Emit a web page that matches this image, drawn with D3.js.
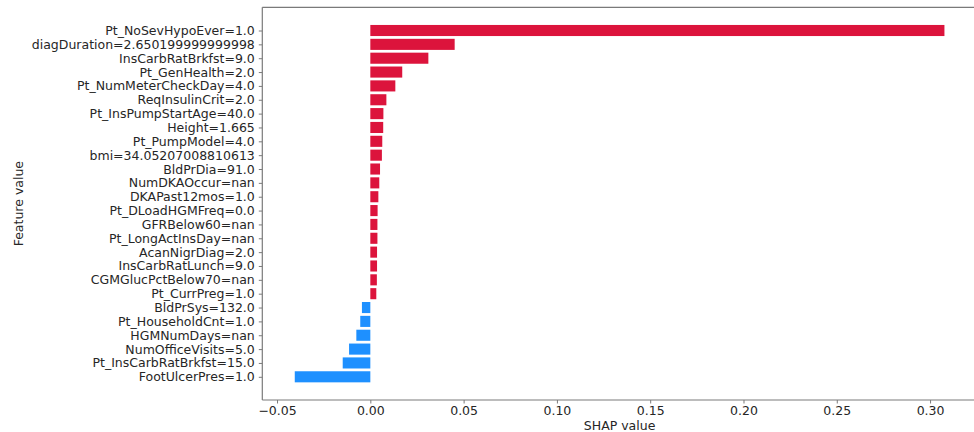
<!DOCTYPE html>
<html>
<head>
<meta charset="utf-8">
<script src="https://cdn.jsdelivr.net/npm/d3@7"></script>
<style>
  html, body { margin: 0; padding: 0; background: #fff; }
  svg { display: block; }
  text { font-family: "DejaVu Sans", sans-serif; fill: #262626; }
</style>
</head>
<body>
<svg id="chart" width="974" height="432"></svg>
<script>
// Feature labels (top to bottom) and their SHAP contributions
const features = [
  "Pt_NoSevHypoEver=1.0",
  "diagDuration=2.650199999999998",
  "InsCarbRatBrkfst=9.0",
  "Pt_GenHealth=2.0",
  "Pt_NumMeterCheckDay=4.0",
  "ReqInsulinCrit=2.0",
  "Pt_InsPumpStartAge=40.0",
  "Height=1.665",
  "Pt_PumpModel=4.0",
  "bmi=34.05207008810613",
  "BldPrDia=91.0",
  "NumDKAOccur=nan",
  "DKAPast12mos=1.0",
  "Pt_DLoadHGMFreq=0.0",
  "GFRBelow60=nan",
  "Pt_LongActInsDay=nan",
  "AcanNigrDiag=2.0",
  "InsCarbRatLunch=9.0",
  "CGMGlucPctBelow70=nan",
  "Pt_CurrPreg=1.0",
  "BldPrSys=132.0",
  "Pt_HouseholdCnt=1.0",
  "HGMNumDays=nan",
  "NumOfficeVisits=5.0",
  "Pt_InsCarbRatBrkfst=15.0",
  "FootUlcerPres=1.0"
];
const shapValues = [
  0.3077, 0.0452, 0.0311, 0.0171, 0.0134, 0.0086, 0.0070, 0.0069,
  0.0064, 0.0062, 0.0052, 0.0048, 0.0043, 0.0039, 0.0038, 0.0038,
  0.0036, 0.0036, 0.0035, 0.0032, -0.0045, -0.0054, -0.0075, -0.0114,
  -0.0148, -0.0405
];
const xTicks = [-0.05, 0.00, 0.05, 0.10, 0.15, 0.20, 0.25, 0.30];

const svg = d3.select("#chart");
const plot = { left: 262.3, right: 976.9, top: 7.3, bottom: 400 };

const x = d3.scaleLinear().domain([-0.0579, 0.3251]).range([plot.left, plot.right]);
const y = d3.scaleLinear().domain([-1.675, features.length - 1 + 1.675]).range([plot.top, plot.bottom]);
const barH = 0.8 * (y(1) - y(0));

const posColor = "#dc143c";
const negColor = "#1e90ff";
const spineColor = "#7a7a7a";

// Bars
svg.append("g").selectAll("rect")
  .data(shapValues)
  .join("rect")
  .attr("x", d => Math.min(x(0), x(d)))
  .attr("width", d => Math.abs(x(d) - x(0)))
  .attr("y", (d, i) => y(i) - barH / 2)
  .attr("height", barH)
  .attr("fill", d => d >= 0 ? posColor : negColor);

// Bottom axis
const xAxis = d3.axisBottom(x)
  .tickValues(xTicks)
  .tickFormat(d => d3.format(".2f")(d).replace("-", "\u2212"))
  .tickSizeOuter(0)
  .tickSize(3.5)
  .tickPadding(2.8);
const gx = svg.append("g").attr("transform", `translate(0,${plot.bottom})`).call(xAxis);
gx.select(".domain").remove();
gx.selectAll(".tick line").attr("stroke", spineColor).attr("stroke-width", 1);
gx.selectAll(".tick text").attr("font-size", 12.5).attr("fill", "#262626")
  .attr("font-family", "DejaVu Sans, sans-serif");

// Left axis with feature labels
const yAxis = d3.axisLeft(y)
  .tickValues(d3.range(features.length))
  .tickFormat(i => features[i])
  .tickSizeOuter(0)
  .tickSize(3.5)
  .tickPadding(4);
const gy = svg.append("g").attr("transform", `translate(${plot.left},0)`).call(yAxis);
gy.select(".domain").remove();
gy.selectAll(".tick line").attr("stroke", spineColor).attr("stroke-width", 1);
gy.selectAll(".tick text").attr("font-size", 12.5).attr("fill", "#262626")
  .attr("font-family", "DejaVu Sans, sans-serif");

// Frame
const frame = svg.append("g").attr("stroke", spineColor).attr("stroke-width", 1.2).attr("fill", "none");
frame.append("line").attr("x1", plot.left).attr("x2", plot.right).attr("y1", plot.top).attr("y2", plot.top);
frame.append("line").attr("x1", plot.left).attr("x2", plot.right).attr("y1", plot.bottom).attr("y2", plot.bottom);
frame.append("line").attr("x1", plot.left).attr("x2", plot.left).attr("y1", plot.top).attr("y2", plot.bottom);
frame.append("line").attr("x1", plot.right).attr("x2", plot.right).attr("y1", plot.top).attr("y2", plot.bottom);

// Axis titles
svg.append("text")
  .attr("x", (plot.left + plot.right) / 2)
  .attr("y", 430)
  .attr("text-anchor", "middle")
  .attr("font-size", 12.5)
  .text("SHAP value");

svg.append("text")
  .attr("transform", `translate(22.5,${(plot.top + plot.bottom) / 2}) rotate(-90)`)
  .attr("text-anchor", "middle")
  .attr("font-size", 12.5)
  .text("Feature value");
</script>
</body>
</html>
